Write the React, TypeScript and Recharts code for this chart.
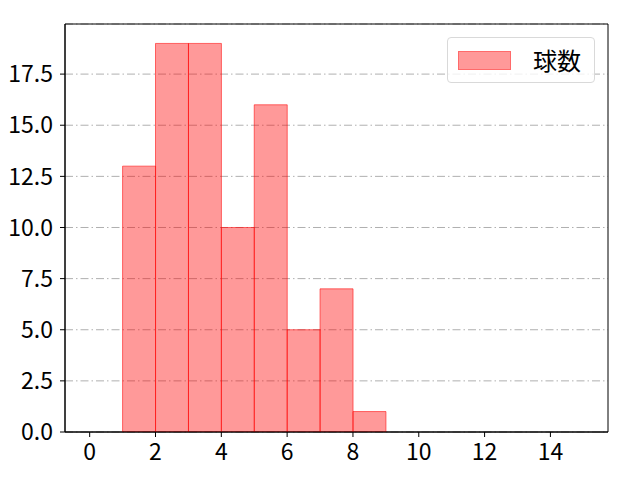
import React from 'react';
import { ComposedChart, Bar, XAxis, YAxis, CartesianGrid, ReferenceArea } from 'recharts';

const binCenters = [1.5, 2.5, 3.5, 4.5, 5.5, 6.5, 7.5, 8.5];
const counts = [13, 19, 19, 10, 16, 5, 7, 1];
const xTicks = [0, 2, 4, 6, 8, 10, 12, 14];
const yTicks = [0, 2.5, 5, 7.5, 10, 12.5, 15, 17.5];
const seriesName = '球数';

const data = binCenters.map((x, i) => ({ x, count: counts[i] }));

const FONT = '"Noto Sans CJK JP", "DejaVu Sans", sans-serif';

// legend drawn as an overlay so it does not take space from the plot
const LegendBox = () => (
  <div
    style={{
      position: 'absolute',
      left: 447,
      top: 37,
      width: 148,
      height: 46,
      border: '1px solid #d9d9d9',
      borderRadius: 4,
      background: 'rgba(255,255,255,0.8)',
      boxSizing: 'border-box',
      display: 'flex',
      alignItems: 'center',
      fontFamily: FONT,
    }}
  >
    <div
      style={{
        width: 53,
        height: 19,
        marginLeft: 10,
        background: 'rgba(255,0,0,0.4)',
        border: '1px solid rgba(255,0,0,0.3)',
        boxSizing: 'border-box',
      }}
    />
    <span style={{ marginLeft: 22, fontSize: 24, color: '#000', lineHeight: 1 }}>{seriesName}</span>
  </div>
);

export default function App() {
  return (
    <div style={{ position: 'absolute', left: 0, top: 0, width: 640, height: 480, background: '#fff' }}>
      <ComposedChart
        width={640}
        height={480}
        data={data}
        margin={{ top: 24, right: 32, bottom: 0, left: 0 }}
        barCategoryGap={0}
        barGap={0}
      >
        <CartesianGrid
          horizontal
          vertical={false}
          stroke="#b0b0b0"
          strokeDasharray="8 3 1.5 3"
        />
        <XAxis
          dataKey="x"
          type="number"
          domain={[-0.75, 15.75]}
          ticks={xTicks}
          height={48}
          tickSize={5}
          tickMargin={7}
          axisLine={{ stroke: '#000' }}
          tickLine={{ stroke: '#000' }}
          tick={{ fill: '#000', fontSize: 23, fontFamily: FONT }}
          allowDataOverflow
        />
        <YAxis
          type="number"
          domain={[0, 19.95]}
          ticks={yTicks}
          width={65}
          tickSize={5}
          tickMargin={7}
          axisLine={{ stroke: '#000' }}
          tickLine={{ stroke: '#000' }}
          tick={{ fill: '#000', fontSize: 23, fontFamily: FONT }}
          tickFormatter={(v: number) => v.toFixed(1)}
          allowDataOverflow
        />
        <Bar
          dataKey="count"
          name={seriesName}
          fill="#ff0000"
          fillOpacity={0.4}
          stroke="#ff0000"
          strokeOpacity={0.55}
          strokeWidth={1}
          isAnimationActive={false}
        />
        <ReferenceArea
          x1={-0.75}
          x2={15.75}
          y1={0}
          y2={19.95}
          fill="none"
          stroke="#000"
          strokeWidth={1}
          ifOverflow="extendDomain"
        />
      </ComposedChart>
      <LegendBox />
    </div>
  );
}
